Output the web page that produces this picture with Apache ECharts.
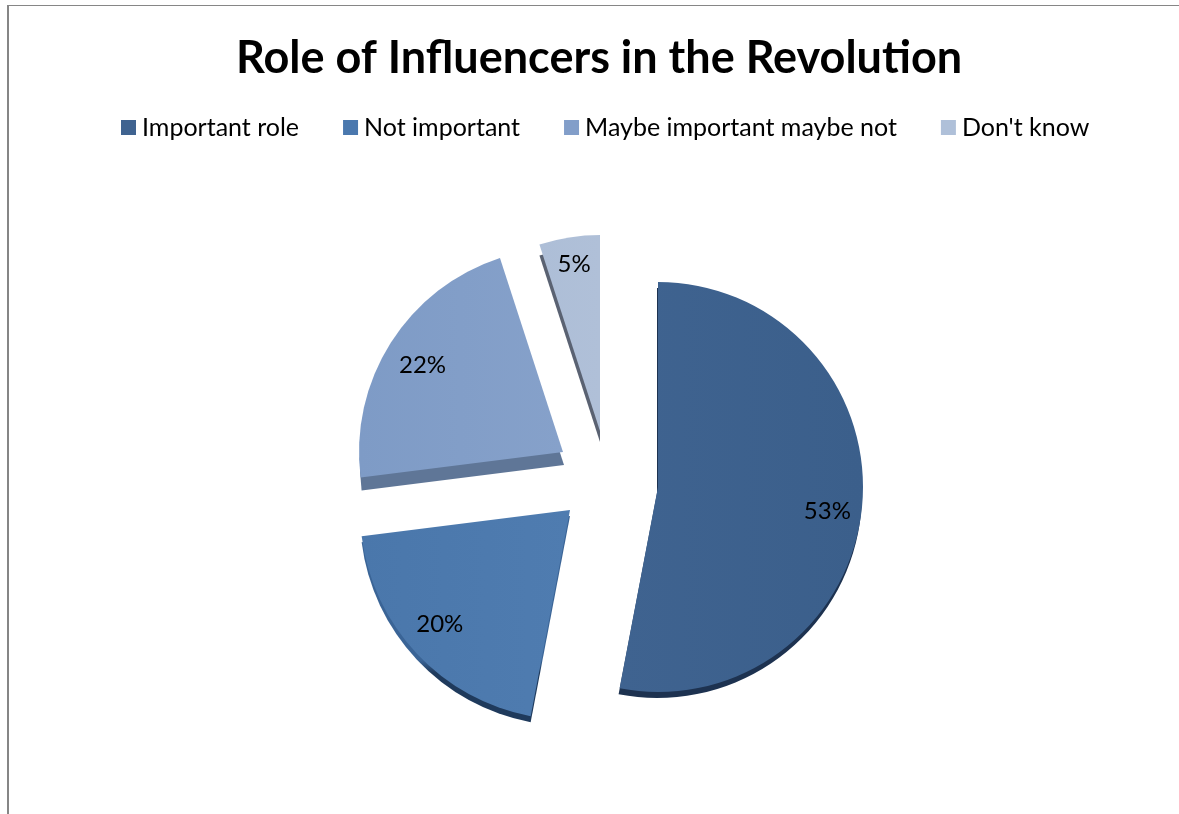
<!DOCTYPE html>
<html>
<head>
<meta charset="utf-8">
<title>Role of Influencers in the Revolution</title>
<script src="https://cdn.jsdelivr.net/npm/echarts@6/dist/echarts.min.js"></script>
<style>
  html, body { margin: 0; padding: 0; background: #fff; }
  #chart { width: 1179px; height: 814px; }
</style>
</head>
<body>
<div id="chart"></div>
<script>
const categories = ['Important role', 'Not important', 'Maybe important maybe not', "Don't know"]
const shares = [53, 20, 22, 5]

// layout of each exploded slice, px
const sliceCenters = [[658, 487], [570, 510], [563, 452], [600, 431]]
const sliceRadius = [205, 210, 204, 196]
const depthShift = [[-1, 6], [0, 6], [1, 13], [0, 11]]
const labelShift = [[-3, 8], [-1, -7], [5, 6], [0, -3]]

const topColors = [['#3f6390', '#3b5f8b'], ['#4a77ab', '#4f7cb0'], ['#7e9bc6', '#86a1ca'], ['#adbed7', '#b0c0d8']]
const depthColors = [['#1d3250', '#1d3250'], ['#3a6496', '#1f3a5c'], ['#5f7697', '#5f7697'], ['#5a6272', '#5a6272']]
const legendColors = ['#3f6390', '#4a78ae', '#829ec9', '#afc0d9']

const FONT = 'Lato'

function gradient (pair) {
  return { type: 'linear', x: 0, y: 0, x2: 1, y2: 0, colorStops: [{ offset: 0, color: pair[0] }, { offset: 1, color: pair[1] }] }
}

// side wall, goes dark only near the lower rim
function depthGradient (pair) {
  return { type: 'linear', x: 0, y: 0, x2: 0, y2: 1, colorStops: [{ offset: 0, color: pair[0] }, { offset: 0.7, color: pair[0] }, { offset: 0.76, color: pair[1] }, { offset: 1, color: pair[1] }] }
}

// every pie holds all four values so the angles stay right, only one slice is painted
function sliceData (index, color) {
  return categories.map(function (name, i) {
    return {
      name: name,
      value: shares[i],
      itemStyle: { color: i === index ? color : 'transparent' }
    }
  })
}

function basePie (index, center, radius, color, z) {
  return {
    type: 'pie',
    startAngle: 90,
    clockwise: true,
    animation: false,
    silent: true,
    center: center,
    radius: radius,
    z: z,
    label: { show: false },
    labelLine: { show: false },
    emphasis: { disabled: true },
    data: sliceData(index, color)
  }
}

const series = []
categories.forEach(function (name, i) {
  const c = sliceCenters[i]
  const r = sliceRadius[i]
  const d = depthShift[i]
  series.push(basePie(i, [c[0] + d[0], c[1] + d[1]], [0, r], depthGradient(depthColors[i]), 1))
  series.push(basePie(i, c, [0, r], gradient(topColors[i]), 2))
  // thin ring, only carries the label at about 83% of the radius
  const ring = basePie(i, c, [r * 0.66, r], 'transparent', 3)
  ring.labelLayout = { dx: labelShift[i][0], dy: labelShift[i][1] }
  ring.data[i].label = {
    show: true,
    position: 'inside',
    formatter: '{d}%',
    color: '#000',
    fontFamily: FONT,
    fontSize: 24
  }
  series.push(ring)
})

const myChart = echarts.init(document.getElementById('chart'))
myChart.setOption({
  backgroundColor: '#fff',
  title: {
    text: 'Role of Influencers in the Revolution',
    left: 231,
    top: 31,
    textStyle: { fontFamily: FONT, fontWeight: 'bold', fontSize: 45, color: '#000' }
  },
  legend: {
    left: 116,
    top: 110,
    icon: 'rect',
    itemWidth: 15,
    itemHeight: 15,
    itemGap: 44,
    selectedMode: false,
    textStyle: { fontFamily: FONT, fontSize: 25, color: '#000', padding: [0, 0, 0, 1] },
    data: categories.map(function (name, i) {
      return { name: name, itemStyle: { color: legendColors[i] } }
    })
  },
  graphic: [
    { type: 'line', z: 10, shape: { x1: 7, y1: 5.5, x2: 1179, y2: 5.5 }, style: { stroke: '#868686', lineWidth: 1 } },
    { type: 'line', z: 10, shape: { x1: 8, y1: 5, x2: 8, y2: 814 }, style: { stroke: '#868686', lineWidth: 2 } }
  ],
  series: series
})
window.addEventListener('resize', () => { myChart.resize() })
</script>
</body>
</html>
